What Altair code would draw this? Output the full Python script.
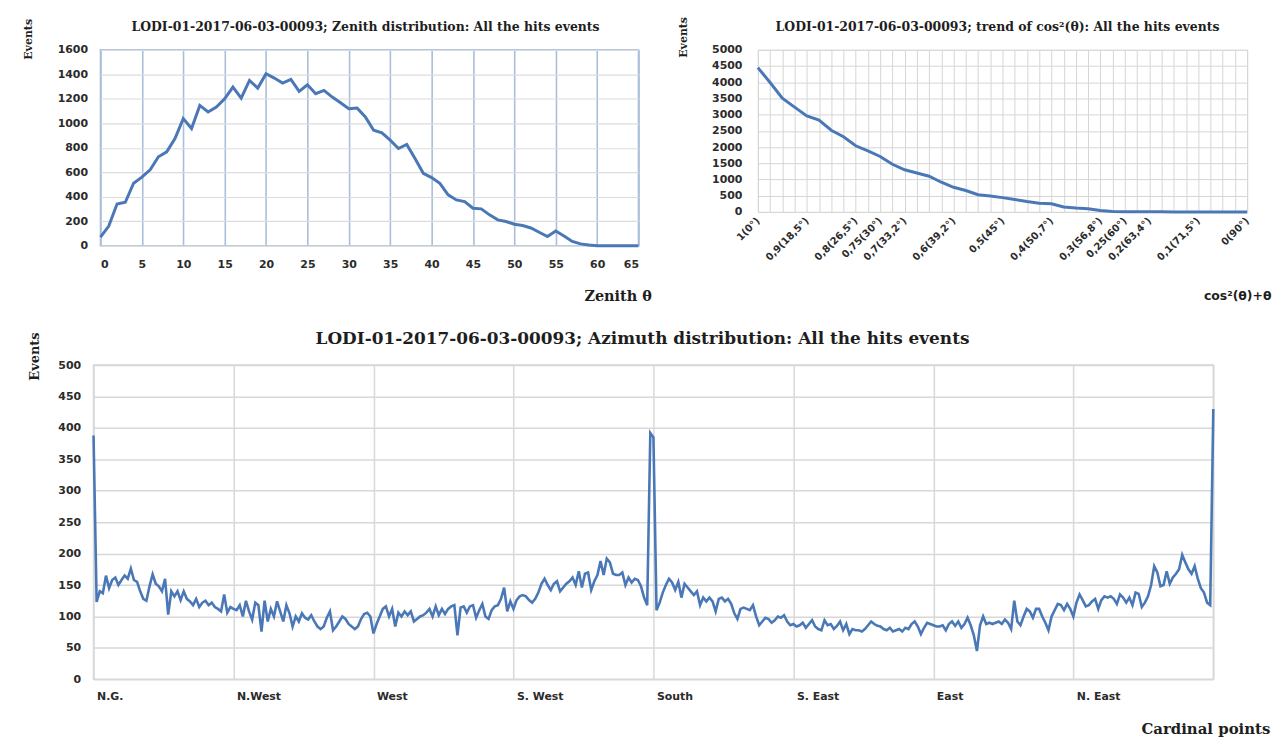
import altair as alt
import pandas as pd

# ---------------- data ----------------
zenith_theta = list(range(66))
zenith_events = [70, 160, 340, 355, 510, 560, 620, 726, 767, 875,
                 1038, 957, 1146, 1092, 1133, 1200, 1295, 1206, 1350, 1287,
                 1404, 1369, 1328, 1358, 1260, 1314, 1241, 1268, 1214, 1168,
                 1119, 1125, 1051, 943, 921, 862, 794, 827, 713, 591,
                 556, 509, 415, 374, 360, 306, 301, 252, 211, 198,
                 175, 165, 145, 110, 75, 120, 80, 35, 15, 5,
                 0, 0, 0, 0, 0, 0]
zenith_ticks = [0, 5, 10, 15, 20, 25, 30, 35, 40, 45, 50, 55, 60, 65]
zenith_yticks = [0, 200, 400, 600, 800, 1000, 1200, 1400, 1600]

cos2_values = [1.0, 0.975, 0.95, 0.925, 0.9, 0.875, 0.85, 0.825, 0.8, 0.775,
               0.75, 0.725, 0.7, 0.675, 0.65, 0.625, 0.6, 0.575, 0.55, 0.525,
               0.5, 0.475, 0.45, 0.425, 0.4, 0.375, 0.35, 0.325, 0.3, 0.275,
               0.25, 0.225, 0.2, 0.175, 0.15, 0.125, 0.1, 0.075, 0.05, 0.025, 0.0]
cos2_events = [4450, 3990, 3510, 3230, 2960, 2830, 2520, 2320, 2040, 1880,
               1710, 1470, 1300, 1200, 1100, 915, 760, 660, 530, 490,
               440, 380, 320, 270, 250, 150, 120, 100, 40, 10,
               5, 2, 1, 1, 0, 0, 0, 0, 0, 0, 0]
cos2_label_values = [1, 0.9, 0.8, 0.75, 0.7, 0.6, 0.5, 0.4, 0.3, 0.25, 0.2, 0.1, 0]
cos2_labels = ["1(0°)", "0,9(18,5°)", "0,8(26,5°)", "0,75(30°)", "0,7(33,2°)",
               "0,6(39,2°)", "0,5(45°)", "0,4(50,7°)", "0,3(56,8°)", "0,25(60°)",
               "0,2(63,4°)", "0,1(71,5°)", "0(90°)"]
cos2_yticks = [0, 500, 1000, 1500, 2000, 2500, 3000, 3500, 4000, 4500, 5000]

azimuth_deg = list(range(361))
azimuth_events = [
    388, 123, 140, 137, 165, 145, 158, 162, 150, 158, 165, 160, 176, 158, 155,
    140, 128, 125, 148, 167, 152, 148, 140, 160, 103, 140, 132, 140, 126, 140,
    128, 124, 118, 128, 115, 122, 125, 118, 122, 115, 112, 108, 135, 106, 115,
    112, 110, 118, 100, 125, 108, 95, 122, 118, 76, 125, 92, 112, 100, 124,
    108, 92, 118, 105, 84, 100, 92, 105, 98, 95, 102, 92, 84, 80, 84,
    98, 108, 78, 84, 92, 100, 96, 88, 84, 80, 84, 96, 104, 106, 100,
    73, 88, 100, 112, 116, 100, 112, 84, 106, 100, 108, 102, 108, 92, 96,
    100, 102, 106, 112, 100, 116, 102, 112, 104, 112, 116, 118, 70, 114, 116,
    106, 116, 118, 98, 110, 120, 100, 96, 110, 116, 118, 128, 146, 108, 124,
    112, 126, 132, 134, 132, 126, 122, 128, 138, 152, 160, 150, 142, 152, 156,
    140, 146, 152, 156, 162, 150, 172, 146, 168, 170, 142, 156, 166, 188, 166,
    192, 186, 168, 166, 166, 170, 150, 162, 154, 160, 158, 148, 130, 118, 392,
    385, 110, 122, 138, 150, 160, 154, 142, 155, 130, 152, 146, 140, 134, 140,
    118, 130, 124, 130, 124, 108, 128, 130, 124, 128, 120, 105, 96, 112, 114,
    112, 110, 118, 100, 86, 92, 98, 96, 90, 94, 100, 98, 102, 92, 86,
    88, 84, 86, 90, 82, 88, 94, 84, 80, 78, 94, 86, 88, 80, 85,
    92, 78, 88, 72, 80, 78, 78, 76, 80, 86, 92, 88, 85, 84, 80,
    78, 82, 76, 78, 80, 76, 82, 80, 88, 92, 84, 72, 82, 90, 88,
    86, 84, 84, 86, 78, 88, 92, 85, 92, 82, 88, 98, 86, 70, 45,
    86, 100, 88, 90, 88, 90, 92, 88, 95, 90, 80, 125, 92, 86, 100,
    112, 108, 98, 112, 112, 100, 90, 78, 100, 110, 120, 118, 110, 120, 112,
    100, 122, 135, 126, 116, 118, 124, 128, 112, 126, 132, 130, 132, 128, 120,
    135, 130, 122, 130, 118, 138, 136, 115, 122, 132, 150, 180, 170, 148, 150,
    172, 152, 162, 168, 175, 198, 186, 175, 168, 180, 160, 145, 138, 122, 118,
    430]
azimuth_ticks = [0, 45, 90, 135, 180, 225, 270, 315, 360]
azimuth_names = ["N.G.", "N.West", "West", "S. West", "South", "S. East", "East", "N. East", ""]
azimuth_yticks = [0, 50, 100, 150, 200, 250, 300, 350, 400, 450, 500]

# ---------------- style ----------------
SERIF = "DejaVu Serif"
SANS = "DejaVu Sans"
LINE = "#4a78b7"
LBL = "#2b2b2b"
TTL = "#1e1e1e"


def lbl_expr(vals, labels):
    parts = [f"abs(datum.value - {v}) < 0.001 ? '{t}'" for v, t in zip(vals, labels)]
    return " : ".join(parts) + " : ''"


# ---------------- top-left: zenith ----------------
zen_df = pd.DataFrame({"theta": zenith_theta, "events": zenith_events})
tl = alt.Chart(zen_df).mark_line(color=LINE, strokeWidth=3).encode(
    x=alt.X("theta:Q", scale=alt.Scale(domain=[0, 65], nice=False, zero=False),
            axis=alt.Axis(values=zenith_ticks, grid=True, gridColor="#a9bedb", gridWidth=1.6,
                          domain=False, ticks=False, tickSize=0,
                          labelFont=SANS, labelFontWeight="bold", labelFontSize=11,
                          labelColor=LBL, labelPadding=13,
                          title="Zenith θ", titleFont=SERIF, titleFontWeight="bold",
                          titleFontSize=14.5, titleColor=TTL, titleX=520, titleY=51,
                          titleAlign="center", titleBaseline="middle")),
    y=alt.Y("events:Q", scale=alt.Scale(domain=[0, 1600], nice=False),
            axis=alt.Axis(values=zenith_yticks, grid=True, gridColor="#dcdcdc", gridWidth=1.2,
                          domain=False, ticks=False, tickSize=0, format="d",
                          labelFont=SANS, labelFontWeight="bold", labelFontSize=11,
                          labelColor=LBL, labelPadding=13,
                          title="Events", titleFont=SERIF, titleFontWeight="bold",
                          titleFontSize=11, titleColor=TTL, titleAngle=270,
                          titleX=-72, titleY=-11, titleAlign="center", titleBaseline="middle")),
).properties(
    width=541, height=197,
    view=alt.ViewBackground(stroke="#a9bedb", strokeWidth=1.6),
    title=alt.TitleParams("LODI-01-2017-06-03-00093; Zenith distribution: All the hits events",
                          font=SERIF, fontSize=12.5, fontWeight="bold", color=TTL,
                          anchor="middle", frame="group", baseline="middle", offset=-21, dx=-4),
)

# ---------------- top-right: cos^2 ----------------
cos_df = pd.DataFrame({"cos2": cos2_values, "events": cos2_events})
tr = alt.Chart(cos_df).mark_line(color=LINE, strokeWidth=3).encode(
    x=alt.X("cos2:Q", scale=alt.Scale(domain=[1, 0], nice=False, zero=False),
            axis=alt.Axis(values=cos2_values, grid=True, gridColor="#d6d6d6", gridWidth=1,
                          domain=False, ticks=False, tickSize=0,
                          labelExpr=lbl_expr(cos2_label_values, cos2_labels),
                          labelAngle=315, labelAlign="right", labelBaseline="middle",
                          labelOverlap=False, labelFlush=False,
                          labelFont=SANS, labelFontWeight="bold", labelFontSize=10,
                          labelColor=LBL, labelPadding=7,
                          title="cos²(θ)+θ", titleFont=SANS, titleFontWeight="bold",
                          titleFontSize=12.5, titleColor=TTL, titleX=482, titleY=84,
                          titleAlign="center", titleBaseline="middle")),
    y=alt.Y("events:Q", scale=alt.Scale(domain=[0, 5000], nice=False),
            axis=alt.Axis(values=cos2_yticks, grid=True, gridColor="#d6d6d6", gridWidth=1,
                          domain=False, ticks=False, tickSize=0, format="d",
                          labelFont=SANS, labelFontWeight="bold", labelFontSize=11,
                          labelColor=LBL, labelPadding=16,
                          title="Events", titleFont=SERIF, titleFontWeight="bold",
                          titleFontSize=11, titleColor=TTL, titleAngle=270,
                          titleX=-75, titleY=-13, titleAlign="center", titleBaseline="middle")),
).properties(
    width=492, height=163,
    view=alt.ViewBackground(stroke="#d6d6d6", strokeWidth=1),
    title=alt.TitleParams("LODI-01-2017-06-03-00093; trend of cos²(θ):  All the hits events",
                          font=SERIF, fontSize=12.5, fontWeight="bold", color=TTL,
                          anchor="middle", frame="group", baseline="middle", offset=-23, dx=-5),
)

# ---------------- bottom: azimuth ----------------
az_df = pd.DataFrame({"deg": azimuth_deg, "events": azimuth_events})
bt = alt.Chart(az_df).mark_line(color=LINE, strokeWidth=2.6).encode(
    x=alt.X("deg:Q", scale=alt.Scale(domain=[0, 360], nice=False, zero=False),
            axis=alt.Axis(values=azimuth_ticks, grid=True, gridColor="#d8d8d8", gridWidth=1.5,
                          domain=False, ticks=False, tickSize=0,
                          labelExpr=lbl_expr(azimuth_ticks, azimuth_names),
                          labelAlign="left", labelOffset=3, labelOverlap=False,
                          labelFont=SANS, labelFontWeight="bold", labelFontSize=11,
                          labelColor=LBL, labelPadding=11,
                          title="Cardinal points", titleFont=SERIF, titleFontWeight="bold",
                          titleFontSize=15, titleColor=TTL, titleX=1118, titleY=49,
                          titleAlign="center", titleBaseline="middle")),
    y=alt.Y("events:Q", scale=alt.Scale(domain=[0, 500], nice=False),
            axis=alt.Axis(values=azimuth_yticks, grid=True, gridColor="#d8d8d8", gridWidth=1.5,
                          domain=False, ticks=False, tickSize=0, format="d",
                          labelFont=SANS, labelFontWeight="bold", labelFontSize=11,
                          labelColor=LBL, labelPadding=13,
                          title="Events", titleFont=SERIF, titleFontWeight="bold",
                          titleFontSize=13, titleColor=TTL, titleAngle=270,
                          titleX=-59, titleY=-9, titleAlign="center", titleBaseline="middle")),
).properties(
    width=1126, height=316,
    view=alt.ViewBackground(stroke="#d8d8d8", strokeWidth=1.5),
    title=alt.TitleParams("LODI-01-2017-06-03-00093; Azimuth distribution: All the hits events",
                          font=SERIF, fontSize=17, fontWeight="bold", color=TTL,
                          anchor="middle", frame="group", baseline="middle", offset=-24.4, dx=-11),
)

spacer = alt.Chart(pd.DataFrame({"v": [0]})).mark_point(opacity=0).encode(
    x=alt.value(0), y=alt.value(0)
).properties(width=7, height=197)

top = alt.hconcat(spacer, alt.hconcat(tl, tr, spacing=120, bounds="flush"),
                  spacing=0, bounds="flush")
chart = alt.vconcat(top, bt, spacing=25).properties(
    padding={"left": 14, "top": 5, "right": 0, "bottom": 0},
    background="white",
).configure_view(stroke=None)

chart.save("out.html", embed_options={"renderer": "svg", "actions": False})
